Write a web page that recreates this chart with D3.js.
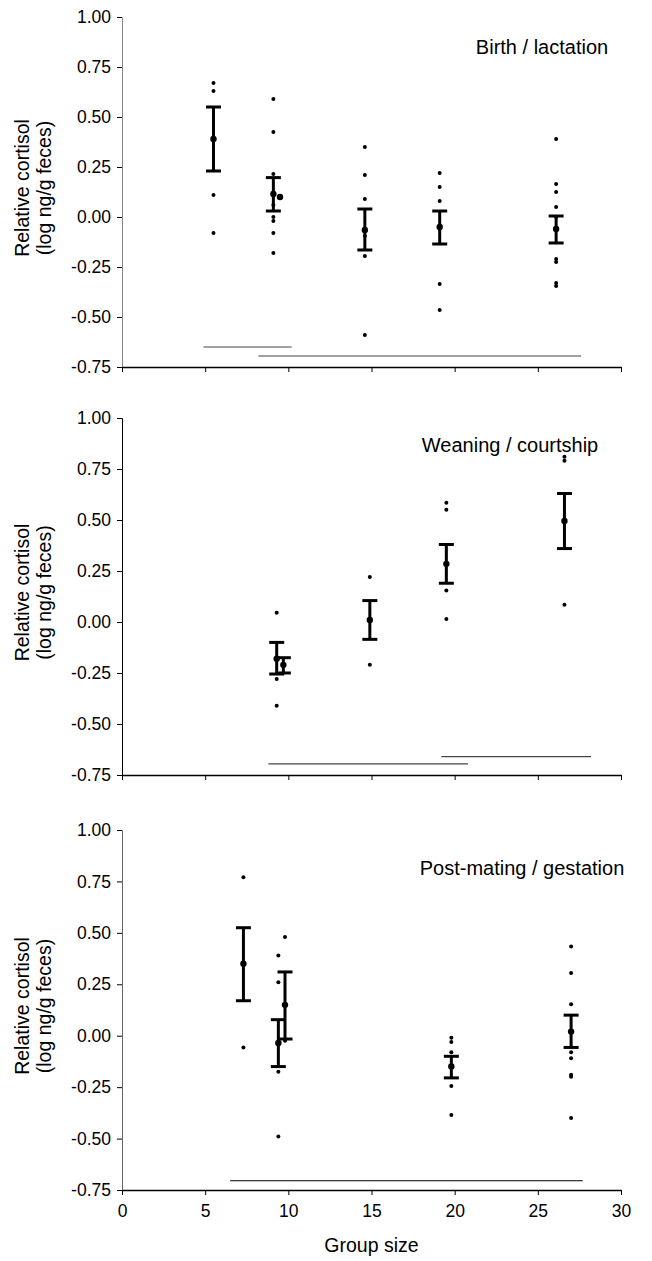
<!DOCTYPE html>
<html>
<head>
	<title>Relative cortisol by group size</title>
	<script src="https://cdn.jsdelivr.net/npm/d3@7"></script>
	<style>
	body { margin: 0; background: #fff; }
	svg { display: block; font-family: "Liberation Sans", Arial, sans-serif; }
	.tick text { font-size: 17.5px; fill: #000; }
	</style>
</head>
<body>
	<svg id="chart"></svg>
<script>

	// axis ticks
	var groupSizeTicks = [0, 5, 10, 15, 20, 25, 30];
	var cortisolTicks = [-0.75, -0.5, -0.25, 0, 0.25, 0.5, 0.75, 1.0];
	var panelTitles = ["Birth / lactation", "Weaning / courtship", "Post-mating / gestation"];

	// individual samples [group size, relative cortisol]
	var birthPoints = [
		[5.5, 0.67], [5.5, 0.63], [5.5, 0.11], [5.5, -0.08],
		[9.1, 0.59], [9.1, 0.425], [9.1, 0.215], [9.1, 0.06], [9.1, 0.0], [9.1, -0.02], [9.1, -0.08], [9.1, -0.18],
		[14.6, 0.35], [14.6, 0.21], [14.6, 0.09], [14.6, -0.095], [14.6, -0.195], [14.6, -0.59],
		[19.1, 0.22], [19.1, 0.15], [19.1, 0.08], [19.1, -0.335], [19.1, -0.465],
		[26.1, 0.39], [26.1, 0.165], [26.1, 0.125], [26.1, 0.05], [26.1, 0.0], [26.1, -0.21], [26.1, -0.225], [26.1, -0.33], [26.1, -0.345]
	];
	var weaningPoints = [
		[9.3, 0.045], [9.3, -0.28], [9.3, -0.41],
		[14.9, 0.22], [14.9, -0.21],
		[19.5, 0.585], [19.5, 0.55], [19.5, 0.155], [19.5, 0.015],
		[26.6, 0.81], [26.6, 0.79], [26.6, 0.085]
	];
	var gestationPoints = [
		[7.3, 0.77], [7.3, -0.057],
		[9.4, 0.39], [9.4, 0.26], [9.4, -0.175], [9.4, -0.49],
		[9.8, 0.48], [9.8, -0.025],
		[19.8, -0.01], [19.8, -0.03], [19.8, -0.08], [19.8, -0.245], [19.8, -0.385],
		[27.0, 0.434], [27.0, 0.305], [27.0, 0.153], [27.0, -0.08], [27.0, -0.11], [27.0, -0.19], [27.0, -0.2], [27.0, -0.4]
	];

	// group means with SE bars (lo/hi null = no bar)
	var birthMeans = [
		{x: 5.5, m: 0.39, lo: 0.23, hi: 0.55},
		{x: 9.1, m: 0.115, lo: 0.03, hi: 0.197},
		{x: 9.5, m: 0.10, lo: null, hi: null},
		{x: 14.6, m: -0.065, lo: -0.165, hi: 0.04},
		{x: 19.1, m: -0.05, lo: -0.135, hi: 0.03},
		{x: 26.1, m: -0.06, lo: -0.13, hi: 0.005}
	];
	var weaningMeans = [
		{x: 9.3, m: -0.18, lo: -0.255, hi: -0.10},
		{x: 9.7, m: -0.21, lo: -0.25, hi: -0.175},
		{x: 14.9, m: 0.01, lo: -0.085, hi: 0.105},
		{x: 19.5, m: 0.285, lo: 0.19, hi: 0.38},
		{x: 26.6, m: 0.495, lo: 0.36, hi: 0.63}
	];
	var gestationMeans = [
		{x: 7.3, m: 0.35, lo: 0.17, hi: 0.525},
		{x: 9.4, m: -0.035, lo: -0.15, hi: 0.078},
		{x: 9.8, m: 0.15, lo: -0.016, hi: 0.31},
		{x: 19.8, m: -0.15, lo: -0.205, hi: -0.10},
		{x: 27.0, m: 0.02, lo: -0.057, hi: 0.10}
	];

	// horizontal lines joining groups that do not differ [from, to, level]
	var birthLines = [[4.9, 10.2, -0.65], [8.2, 27.6, -0.695]];
	var weaningLines = [[8.8, 20.8, -0.695], [19.2, 28.2, -0.66]];
	var gestationLines = [[6.5, 27.7, -0.705]];

	var panels = [
		{title: panelTitles[0], points: birthPoints, means: birthMeans, lines: birthLines, top: 17, bottom: 367, titleX: 542, titleY: 47, lineColor: "#444", axisColor: "#888"},
		{title: panelTitles[1], points: weaningPoints, means: weaningMeans, lines: weaningLines, top: 418, bottom: 775, titleX: 510, titleY: 445, lineColor: "#444", axisColor: "#000"},
		{title: panelTitles[2], points: gestationPoints, means: gestationMeans, lines: gestationLines, top: 830, bottom: 1190, titleX: 522, titleY: 868, lineColor: "#000", axisColor: "#666"}
	];

	var width = 652, height = 1261;
	var left = 122, right = 621;

	var svg = d3.select("#chart")
		.attr("width", width)
		.attr("height", height);

	var xScale = d3.scaleLinear().domain([0, 30]).range([left, right]);

	panels.forEach(function(p, i) {
		var yScale = d3.scaleLinear().domain([-0.75, 1.0]).range([p.bottom, p.top]);
		var g = svg.append("g").attr("class", "panel");

		// y axis
		var yAxis = g.append("g")
			.attr("transform", "translate(" + left + ",0)")
			.call(d3.axisLeft(yScale).tickValues(cortisolTicks).tickSize(5).tickPadding(6)
				.tickFormat(function(d) { return d.toFixed(2); }));
		yAxis.select(".domain").attr("stroke", p.axisColor);
		yAxis.selectAll(".tick line").attr("stroke", "#000");

		// x axis
		var xAxis = g.append("g")
			.attr("transform", "translate(0," + p.bottom + ")")
			.call(d3.axisBottom(xScale).tickValues(groupSizeTicks).tickSize(5).tickSizeOuter(0).tickPadding(10));
		xAxis.select(".domain").attr("stroke", "#000").attr("stroke-width", 1.5);
		if (i < 2) xAxis.selectAll(".tick text").remove();

		// y title
		var cy = (p.top + p.bottom) / 2 - 4;
		g.append("text")
			.attr("transform", "translate(29," + cy + ") rotate(-90)")
			.attr("text-anchor", "middle")
			.style("font-size", "19.5px")
			.text("Relative cortisol");
		g.append("text")
			.attr("transform", "translate(51," + cy + ") rotate(-90)")
			.attr("text-anchor", "middle")
			.style("font-size", "19.5px")
			.text("(log ng/g feces)");

		// panel title
		g.append("text")
			.attr("x", p.titleX)
			.attr("y", p.titleY + 7)
			.attr("text-anchor", "middle")
			.style("font-size", "20px")
			.text(p.title);

		// significance lines
		g.selectAll("line.sig")
			.data(p.lines).enter()
			.append("line")
			.attr("class", "sig")
			.attr("x1", function(d) { return xScale(d[0]); })
			.attr("x2", function(d) { return xScale(d[1]); })
			.attr("y1", function(d) { return yScale(d[2]); })
			.attr("y2", function(d) { return yScale(d[2]); })
			.attr("stroke", p.lineColor)
			.attr("stroke-width", 1.2);

		// individual samples
		g.selectAll("circle.pt")
			.data(p.points).enter()
			.append("circle")
			.attr("class", "pt")
			.attr("cx", function(d) { return xScale(d[0]); })
			.attr("cy", function(d) { return yScale(d[1]); })
			.attr("r", 2)
			.attr("fill", "#000");

		// SE bars
		var bars = p.means.filter(function(d) { return d.lo !== null; });
		var eb = g.selectAll("g.eb")
			.data(bars).enter()
			.append("g")
			.attr("class", "eb")
			.attr("stroke", "#000")
			.attr("stroke-width", 3);
		eb.append("line")
			.attr("x1", function(d) { return xScale(d.x); })
			.attr("x2", function(d) { return xScale(d.x); })
			.attr("y1", function(d) { return yScale(d.lo); })
			.attr("y2", function(d) { return yScale(d.hi); });
		eb.append("line")
			.attr("x1", function(d) { return xScale(d.x) - 7.5; })
			.attr("x2", function(d) { return xScale(d.x) + 7.5; })
			.attr("y1", function(d) { return yScale(d.hi); })
			.attr("y2", function(d) { return yScale(d.hi); });
		eb.append("line")
			.attr("x1", function(d) { return xScale(d.x) - 7.5; })
			.attr("x2", function(d) { return xScale(d.x) + 7.5; })
			.attr("y1", function(d) { return yScale(d.lo); })
			.attr("y2", function(d) { return yScale(d.lo); });

		// means
		g.selectAll("circle.mean")
			.data(p.means).enter()
			.append("circle")
			.attr("class", "mean")
			.attr("cx", function(d) { return xScale(d.x); })
			.attr("cy", function(d) { return yScale(d.m); })
			.attr("r", 3.2)
			.attr("fill", "#000");
	});

	// x title
	svg.append("text")
		.attr("x", xScale(15))
		.attr("y", 1252)
		.attr("text-anchor", "middle")
		.style("font-size", "19.5px")
		.text("Group size");

</script>
</body>
</html>
